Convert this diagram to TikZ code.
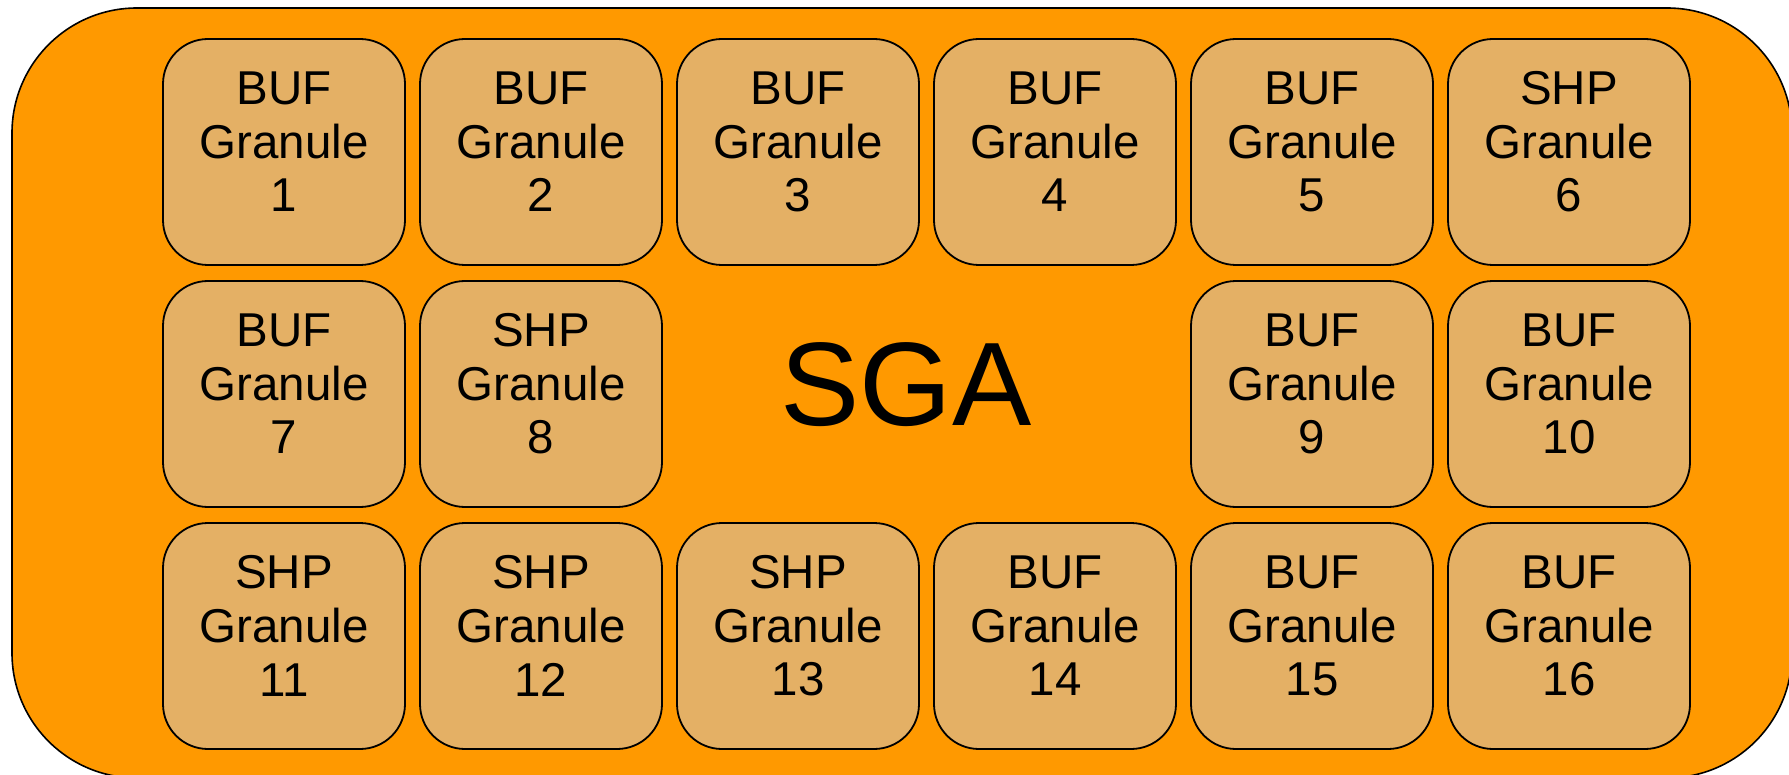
\documentclass[tikz,border=0pt]{standalone}
\usepackage{fontspec}
\setmainfont{Liberation Sans}
\definecolor{outerorange}{HTML}{FF9900}
\definecolor{granfill}{HTML}{E4B065}
\begin{document}
\begin{tikzpicture}[x=0.5pt,y=-0.5pt,
  granule/.style={draw=black, line width=0.9pt, fill=granfill, rounded corners=22.5pt,
    minimum width=121pt, minimum height=113pt, inner sep=0pt},
  gtext/.style={align=center, inner sep=0pt, font=\fontsize{23.75pt}{26.8pt}\selectfont},
  outerbox/.style={draw=black, line width=0.8pt, fill=outerorange, rounded corners=62.5pt}]
\useasboundingbox (0,0) rectangle (1789,775);
\draw[outerbox] (12,8) rectangle (1792,778);
\foreach \kc/\kr/\ktype/\knum in {0/0/BUF/1, 1/0/BUF/2, 2/0/BUF/3, 3/0/BUF/4, 4/0/BUF/5, 5/0/SHP/6,
  0/1/BUF/7, 1/1/SHP/8, 4/1/BUF/9, 5/1/BUF/10,
  0/2/SHP/11, 1/2/SHP/12, 2/2/SHP/13, 3/2/BUF/14, 4/2/BUF/15, 5/2/BUF/16} {
  \node[granule] (g\knum) at ({284+257*\kc},{152+242*\kr}) {};
  \node[gtext] (t\knum) at ([yshift=5pt]g\knum.center) {\ktype\\Granule\\\knum};
}
\node[anchor=base, inner sep=0pt, font=\fontsize{59.4pt}{70pt}\selectfont] (sga) at (906,425) {SGA};
\end{tikzpicture}
\end{document}
